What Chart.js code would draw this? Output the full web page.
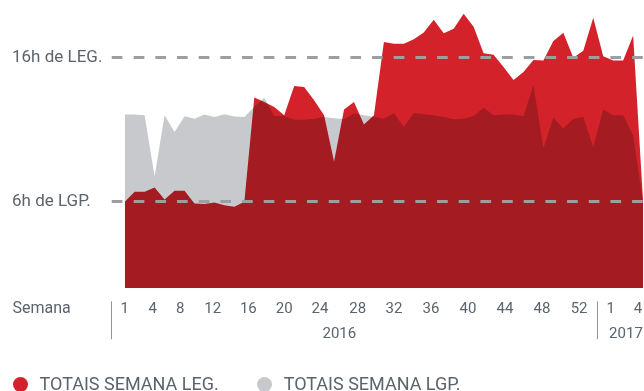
<!DOCTYPE html>
<html>
<head>
<meta charset="utf-8">
<script src="https://cdn.jsdelivr.net/npm/chart.js@4"></script>
<style>
  html, body { margin: 0; padding: 0; background: #fff; overflow: hidden; }
  #wrap { position: relative; width: 644px; height: 391px; overflow: hidden; }
  #legend { position: absolute; left: 0; top: 375px; display: flex; align-items: center;
            font-family: Roboto, sans-serif; font-size: 18px; line-height: 18px; color: #5b646c; }
  #legend .item { display: flex; align-items: center; }
  #legend .dot { width: 15px; height: 15px; border-radius: 50%; margin-right: 12px; }
</style>
</head>
<body>
<div id="wrap">
  <canvas id="myChart" width="644" height="391"></canvas>
  <div id="legend"></div>
</div>
<script>
// weekly totals in hours, 2016 week 1 onwards
const legHours = [6.0, 6.69, 6.69, 6.99, 6.16, 6.76, 6.76, 5.89, 5.84, 5.96, 5.77, 5.65, 6.0,
  13.23, 12.92, 12.58, 12.0, 14.03, 13.96, 13.04, 12.0, 8.8, 12.4, 12.92, 11.36, 12.0,
  17.08, 16.97, 16.97, 17.28, 17.75, 18.63, 17.7, 18.0, 19.04, 18.14, 16.3, 16.2, 15.35,
  14.45, 15.0, 15.84, 15.8, 17.15, 17.72, 16.0, 16.48, 18.77, 16.09, 15.81, 15.81, 17.54, 6.0];

const lgpHours = [12.05, 12.05, 12.0, 7.75, 12.0, 10.85, 11.93, 11.77, 12.05, 11.88, 12.07, 11.91, 11.88,
  12.6, 13.22, 11.95, 11.95, 11.7, 11.7, 11.77, 11.88, 11.8, 11.75, 12.14, 12.0, 11.9,
  11.77, 12.16, 11.19, 12.16, 12.07, 12.0, 11.88, 11.72, 11.77, 11.95, 12.53, 12.0, 12.05,
  12.05, 11.93, 14.1, 9.74, 11.84, 11.08, 11.77, 11.88, 9.8, 12.4, 12.0, 12.0, 10.62, 6.0];

const weeks = legHours.map((v, i) => 'S' + (i + 1));

const weekTickLabels = ['1', '4', '8', '12', '16', '20', '24', '28', '32', '36', '40', '44', '48', '52', '1', '4'];
const yearLabels = ['2016', '2017'];

const refLines = [6, 16];
const refLabels = { 6: '6h de LGP.', 16: '16h de LEG.' };

const seriesNames = ['TOTAIS SEMANA LEG.', 'TOTAIS SEMANA LGP.'];
const seriesColors = ['#d3222a', '#c8c9cc'];

// where the week / year captions sit along the week axis
const weekTickPos = [0, 2.81, 5.58, 8.83, 12.4, 16.0, 19.59, 23.37, 27.01, 30.72, 34.43, 38.15, 41.86, 45.58, 48.75, 51.49];
const yearTickPos = [21.53, 50.28];
const dividerPos = [-1.37, 47.34];

const textColor = '#5b646c';
const dash = [10.7, 10.97];

// no extra room for labels that overhang the plot
const noOverhang = s => {
  s.paddingTop = 0; s.paddingBottom = 0;
  s.paddingLeft = 0; s.paddingRight = 0;
};

// overlapping areas are multiplied, so LEG over LGP comes out dark red
const multiplyAreas = {
  id: 'multiplyAreas',
  beforeDatasetsDraw(chart) {
    chart.ctx.save();
    chart.ctx.globalCompositeOperation = 'multiply';
  },
  afterDatasetsDraw(chart) {
    chart.ctx.restore();
  }
};

// "Semana" caption and the year dividers under the axis
const axisNotes = {
  id: 'axisNotes',
  afterDraw(chart) {
    const ctx = chart.ctx;
    const sem = chart.scales.semana;
    const ano = chart.scales.ano;
    ctx.save();
    ctx.font = '16px Roboto';
    ctx.fillStyle = textColor;
    ctx.textAlign = 'left';
    ctx.textBaseline = 'middle';
    ctx.fillText('Semana', 12.5, sem.top + 21);
    ctx.strokeStyle = '#8f959b';
    ctx.lineWidth = 1;
    dividerPos.forEach(v => {
      const x = Math.round(sem.getPixelForValue(v)) + 0.5;
      ctx.beginPath();
      ctx.moveTo(x, sem.top + 13);
      ctx.lineTo(x, ano.top + 25);
      ctx.stroke();
    });
    ctx.restore();
  }
};

const ctx = document.getElementById('myChart').getContext('2d');
const chart = new Chart(ctx, {
  type: 'line',
  data: {
    labels: weeks,
    datasets: [
      { label: seriesNames[0], data: legHours, backgroundColor: seriesColors[0], fill: 'origin' },
      { label: seriesNames[1], data: lgpHours, backgroundColor: seriesColors[1], fill: 'origin' }
    ]
  },
  options: {
    responsive: false,
    animation: false,
    layout: { autoPadding: false, padding: { left: 12, right: 0.9, top: 0, bottom: 52.7 } },
    elements: {
      point: { radius: 0 },
      line: { borderWidth: 0, tension: 0 }
    },
    plugins: {
      legend: { display: false },
      tooltip: { enabled: false }
    },
    scales: {
      x: { type: 'category', display: false, offset: false },
      semana: {
        type: 'linear', position: 'bottom', weight: 1,
        min: 0, max: legHours.length - 1,
        grid: { display: false }, border: { display: false },
        afterBuildTicks: s => { s.ticks = weekTickPos.map(v => ({ value: v })); },
        afterFit: s => { s.height = 26; noOverhang(s); },
        ticks: {
          autoSkip: false, maxRotation: 0, padding: 4,
          color: textColor, font: { family: 'Roboto', size: 15 },
          callback: (v, i) => weekTickLabels[i]
        }
      },
      ano: {
        type: 'linear', position: 'bottom', weight: 2,
        min: 0, max: legHours.length - 1,
        grid: { display: false }, border: { display: false },
        afterBuildTicks: s => { s.ticks = yearTickPos.map(v => ({ value: v })); },
        afterFit: s => { s.height = 24; noOverhang(s); },
        ticks: {
          autoSkip: false, maxRotation: 0, padding: 3,
          color: textColor, font: { family: 'Roboto', size: 15 },
          callback: (v, i) => yearLabels[i]
        }
      },
      y: {
        min: 0, max: 20,
        border: { display: false, dash: dash, dashOffset: 13 },
        afterBuildTicks: s => { s.ticks = refLines.map(v => ({ value: v })); },
        afterFit: s => { s.width = 112.7; noOverhang(s); },
        grid: {
          z: 1,
          color: '#9c9ea1', lineWidth: 3, tickLength: 16,
          tickBorderDash: dash, tickBorderDashOffset: 18.67
        },
        ticks: {
          crossAlign: 'far', padding: 4,
          color: textColor, font: { family: 'Roboto', size: 17 },
          callback: v => refLabels[v]
        }
      }
    }
  },
  plugins: [multiplyAreas, axisNotes]
});

// legend built from the datasets
const legendEl = document.getElementById('legend');
chart.data.datasets.forEach((ds, i) => {
  const item = document.createElement('div');
  item.className = 'item';
  item.style.marginLeft = i === 0 ? '12.5px' : '38px';
  const dot = document.createElement('span');
  dot.className = 'dot';
  dot.style.background = ds.backgroundColor;
  const text = document.createElement('span');
  text.textContent = ds.label;
  item.appendChild(dot);
  item.appendChild(text);
  legendEl.appendChild(item);
});
</script>
</body>
</html>
